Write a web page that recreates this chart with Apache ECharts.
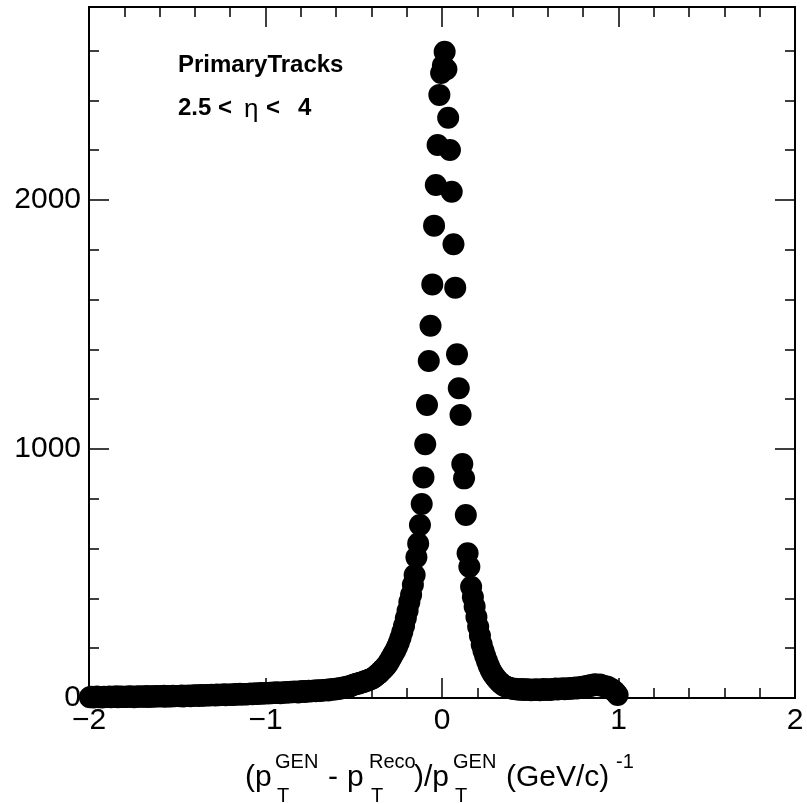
<!DOCTYPE html>
<html>
<head>
<meta charset="utf-8">
<title>pT resolution</title>
<script src="https://cdn.jsdelivr.net/npm/echarts@6/dist/echarts.min.js"></script>
<style>
  html, body { margin: 0; padding: 0; background: #fff; }
  #chart { width: 807px; height: 804px; }
</style>
</head>
<body>
<div id="chart"></div>
<script>
// Histogram binning: 300 bins of width 0.01 starting at -2
const binStart = -2;
const binWidth = 0.01;

// Entries per bin, from -2 up to +1
const counts = [
  3, 5, 2, 4, 6, 3, 4, 2, 5, 4,
  4, 6, 3, 5, 4, 7, 3, 5, 6, 4,
  5, 4, 7, 5, 6, 3, 6, 5, 7, 5,
  6, 5, 8, 4, 7, 6, 5, 8, 6, 7,
  7, 6, 9, 5, 8, 7, 6, 9, 7, 8,
  8, 7, 10, 6, 9, 8, 10, 7, 9, 11,
  9, 11, 8, 12, 10, 9, 12, 11, 10, 13,
  12, 10, 14, 11, 13, 12, 15, 11, 14, 13,
  14, 12, 16, 13, 15, 17, 13, 16, 15, 14,
  16, 18, 15, 17, 19, 16, 18, 20, 17, 19,
  20, 18, 21, 19, 22, 20, 23, 21, 19, 22,
  23, 21, 24, 22, 25, 23, 26, 24, 22, 27,
  25, 28, 24, 27, 29, 26, 28, 30, 27, 31,
  30, 28, 32, 31, 33, 30, 35, 33, 36, 34,
  38, 36, 40, 39, 43, 41, 46, 45, 49, 52,
  54, 57, 57, 61, 62, 64, 68, 69, 73, 75,
  78, 83, 88, 95, 100, 108, 115, 122, 130, 140,
  152, 165, 178, 190, 205, 222, 242, 265, 290, 320,
  350, 385, 415, 455, 494, 565, 620, 695, 779, 886,
  1019, 1177, 1353, 1495, 1661, 1897, 2060, 2221, 2422, 2510,
  2540, 2595, 2525, 2330, 2201, 2033, 1822, 1648, 1380, 1244,
  1137, 940, 882, 735, 581, 527, 447, 405, 367, 325,
  286, 250, 215, 190, 168, 148, 130, 113, 100, 90,
  80, 72, 64, 58, 52, 48, 45, 42, 40, 38,
  36, 37, 34, 35, 33, 36, 32, 34, 35, 33,
  31, 34, 32, 35, 33, 31, 34, 36, 32, 35,
  34, 32, 36, 35, 38, 34, 37, 36, 39, 35,
  38, 36, 40, 37, 39, 42, 38, 41, 44, 43,
  46, 45, 49, 47, 52, 50, 55, 53, 51, 54,
  50, 48, 45, 46, 41, 38, 33, 28, 21, 12
];

// Axis ranges and steps
const xRange = [-2, 2];
const yRange = [0, 2775];
const xMajor = 1;
const yMajor = 1000;
const yMinor = 200;

// Annotation text
const labelLines = ['PrimaryTracks'];
const etaRange = ['2.5', '<', 'η', '<', '4'];

const points = counts.map((c, i) => [binStart + binWidth * (i + 0.5), c]);

const FONT = '"Liberation Sans", Arial, Helvetica, sans-serif';

function minusSign(v) {
  return String(v).replace('-', '\u2212');
}

function tickAxis(base, opts) {
  return Object.assign({
    type: 'value',
    splitLine: { show: false },
    axisLine: { show: true, onZero: false, lineStyle: { color: '#000', width: 2 } },
    axisTick: { show: true, inside: true, lineStyle: { color: '#000', width: 1.5 } },
    axisLabel: { show: false },
    minorTick: { show: false },
    minorSplitLine: { show: false }
  }, base, opts);
}

const xBottom = tickAxis({ min: xRange[0], max: xRange[1], interval: xMajor, position: 'bottom' }, {
  axisTick: { show: true, inside: true, length: 20, lineStyle: { color: '#000', width: 1.5 } },
  minorTick: { show: true, splitNumber: 5, length: 10, lineStyle: { color: '#000', width: 1.5 } },
  axisLabel: {
    show: true, fontSize: 30, fontFamily: FONT, color: '#000', margin: 8,
    formatter: v => minusSign(v)
  }
});
const xTop = tickAxis({ min: xRange[0], max: xRange[1], interval: xMajor, position: 'top' }, {
  axisTick: { show: true, inside: true, length: 20, lineStyle: { color: '#000', width: 1.5 } },
  minorTick: { show: true, splitNumber: 5, length: 10, lineStyle: { color: '#000', width: 1.5 } }
});

function yPair(position, withLabels) {
  const major = tickAxis({ min: yRange[0], max: yRange[1], interval: yMajor, position: position }, {
    axisTick: { show: true, inside: true, length: 20, lineStyle: { color: '#000', width: 1.5 } },
    axisLabel: withLabels ? {
      show: true, fontSize: 30, fontFamily: FONT, color: '#000', margin: 8,
      formatter: v => (v % yMajor === 0 ? String(v) : '')
    } : { show: false }
  });
  const minor = tickAxis({ min: yRange[0], max: yRange[1], interval: yMinor, position: position }, {
    axisTick: { show: true, inside: true, length: 10, lineStyle: { color: '#000', width: 1.5 } }
  });
  return [major, minor];
}

// Axis title built from pieces so sub/superscripts stack like TLatex
const MAIN = 30, SUP = 20;
const titleY = { main: 778, sup: 762, sub: 796 };
const titlePieces = [
  { t: '(p', x: 245, k: 'main' },
  { t: 'GEN', x: 275, k: 'sup' },
  { t: 'T', x: 277, k: 'sub' },
  { t: '-', x: 328, k: 'main' },
  { t: 'p', x: 347, k: 'main' },
  { t: 'Reco', x: 369, k: 'sup' },
  { t: 'T', x: 371, k: 'sub' },
  { t: ')/p', x: 414, k: 'main' },
  { t: 'GEN', x: 453, k: 'sup' },
  { t: 'T', x: 455, k: 'sub' },
  { t: '(GeV/c)', x: 506, k: 'main' },
  { t: '-1', x: 616, k: 'sup' }
];

const graphics = titlePieces.map(p => ({
  type: 'text', silent: true, x: p.x, y: titleY[p.k],
  style: {
    text: p.t, fill: '#000', align: 'left', verticalAlign: 'middle',
    font: (p.k === 'main' ? MAIN : SUP) + 'px ' + FONT
  }
}));

graphics.push({
  type: 'text', silent: true, x: 178, y: 65,
  style: { text: labelLines[0], fill: '#000', align: 'left', verticalAlign: 'middle', font: 'bold 24px ' + FONT }
});
const etaX = [178, 218, 244, 266, 298];
etaRange.forEach((t, i) => {
  const isGreek = t === 'η';
  graphics.push({
    type: 'text', silent: true, x: etaX[i], y: isGreek ? 110 : 108,
    style: {
      text: t, fill: '#000', align: 'left', verticalAlign: 'middle',
      font: (isGreek ? 'normal 26px ' : 'bold 24px ') + FONT
    }
  });
});

const chart = echarts.init(document.getElementById('chart'), null, { renderer: 'canvas' });
chart.setOption({
  animation: false,
  backgroundColor: '#fff',
  grid: { left: 89, right: 12, top: 7, bottom: 106, show: true, borderColor: '#000', borderWidth: 2, backgroundColor: 'transparent' },
  xAxis: [xBottom, xTop],
  yAxis: [...yPair('left', true), ...yPair('right', false)],
  series: [{
    type: 'scatter',
    xAxisIndex: 0,
    yAxisIndex: 0,
    data: points,
    symbol: 'circle',
    symbolSize: 22,
    clip: false,
    itemStyle: { color: '#000', opacity: 1 },
    z: 5
  }],
  graphic: graphics
});
</script>
</body>
</html>
